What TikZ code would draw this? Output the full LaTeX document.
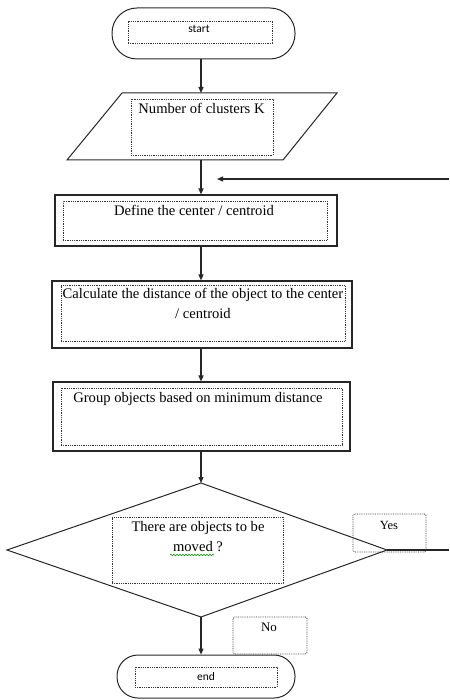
\documentclass[tikz,border=0pt]{standalone}
\usepackage{fontspec}
\setmainfont{Liberation Serif}
\newfontfamily\termfont{Carlito}
\usetikzlibrary{arrows.meta,decorations.pathmorphing}
\begin{document}
\begin{tikzpicture}[x=1pt,y=-1pt,
  box/.style={draw=black!85, line width=1.1pt, rectangle, inner sep=0pt},
  term/.style={draw=black!85, line width=1pt, rectangle, inner sep=0pt},
  dotbox/.style={draw=black!80, line width=0.8pt, densely dotted, rectangle, inner sep=0pt},
  txt/.style={font=\fontsize{14.6}{19.5}\selectfont, inner sep=0pt, anchor=base, align=center},
  mtxt/.style={font=\fontsize{14.6}{20}\selectfont, inner sep=0pt, anchor=north, align=center},
  ttxt/.style={font=\termfont\fontsize{11.5}{13}\selectfont, inner sep=0pt, anchor=base},
  arr/.style={draw=black!85, line width=1.2pt, -{Triangle[length=6pt,width=5pt]}},
  ln/.style={draw=black!85, line width=1.2pt},
]
\useasboundingbox (0,0) rectangle (449,700);

% start
\node[term, rounded corners=25pt, minimum width=183pt, minimum height=51pt] (start) at (203.5,33.5) {};
\node[dotbox, minimum width=144pt, minimum height=22pt] (startin) at (200,32) {};
\node[ttxt] (starttxt) at (199,33) {start};

% input parallelogram
\coordinate (ptl) at (122,93);
\coordinate (ptr) at (337,93);
\coordinate (pbr) at (283,160);
\coordinate (pbl) at (67,160);
\coordinate (ptop) at (201,93);
\coordinate (pbot) at (201,160);
\draw[ln, line width=1pt] (ptl) -- (ptr) -- (pbr) -- (pbl) -- cycle;
\node[dotbox, minimum width=142pt, minimum height=56pt] (parin) at (202,127) {};
\node[txt] (partxt) at (201.5,114) {Number of clusters K};

% define
\node[box, minimum width=282pt, minimum height=51pt] (define) at (196,220.5) {};
\node[dotbox, minimum width=264pt, minimum height=39pt] (definein) at (195,220.5) {};
\node[txt] (definetxt) at (194,216) {Define the center / centroid};

% calculate
\node[box, minimum width=300pt, minimum height=67pt] (calc) at (202,314.5) {};
\node[dotbox, minimum width=284pt, minimum height=56pt] (calcin) at (203,313) {};
\node[mtxt] (calctxt) at (203,288) {Calculate the distance of the object to the center\\/ centroid};

% group
\node[box, minimum width=297pt, minimum height=69pt] (group) at (201.5,416.5) {};
\node[dotbox, minimum width=281pt, minimum height=57pt] (groupin) at (201.5,416.5) {};
\node[txt] (grouptxt) at (198,402) {Group objects based on minimum distance};

% decision
\coordinate (dtop) at (201,483);
\coordinate (dright) at (387,550);
\coordinate (dbot) at (201,617);
\coordinate (dleft) at (7,550);
\draw[ln, line width=1pt] (dtop) -- (dright) -- (dbot) -- (dleft) -- cycle;
\node[dotbox, minimum width=171pt, minimum height=66pt] (decin) at (197.5,550) {};
\node[mtxt] (dectxt) at (198,521) {There are objects to be\\moved ?};
\draw[green!60!black, line width=0.6pt, decorate, decoration={snake, amplitude=0.8pt, segment length=3pt}] (170,555) -- (214,555);

% yes / no labels
\node[dotbox, rounded corners=1.5pt, minimum width=73pt, minimum height=38pt] (yesbox) at (389.5,533) {};
\node[txt, font=\fontsize{12.5}{14}\selectfont] (yestxt) at (389,529) {Yes};
\node[dotbox, rounded corners=1.5pt, minimum width=74pt, minimum height=37pt] (nobox) at (270,635.5) {};
\node[txt, font=\fontsize{13}{15}\selectfont] (notxt) at (269,631) {No};

% end
\node[term, rounded corners=21pt, minimum width=178pt, minimum height=43pt] (end) at (206,676.5) {};
\node[dotbox, minimum width=142pt, minimum height=20pt] (endin) at (206,677) {};
\node[ttxt] (endtxt) at (206,680) {end};

% connectors
\coordinate (axis) at (201,0);
\draw[arr] (start.south -| axis) -- (ptop);
\draw[arr] (pbot) -- (define.north -| axis);
\draw[arr] (define.south -| axis) -- (calc.north -| axis);
\draw[arr] (calc.south -| axis) -- (group.north -| axis);
\draw[arr] (group.south -| axis) -- (dtop);
\draw[arr] (dbot) -- (end.north -| axis);

\coordinate (yesend) at (449,550);
\draw[ln] (dright) -- (yesend);
\coordinate (fbstart) at (449,179);
\coordinate (fbend) at (217,179);
\draw[arr] (fbstart) -- (fbend);
\end{tikzpicture}
\end{document}
